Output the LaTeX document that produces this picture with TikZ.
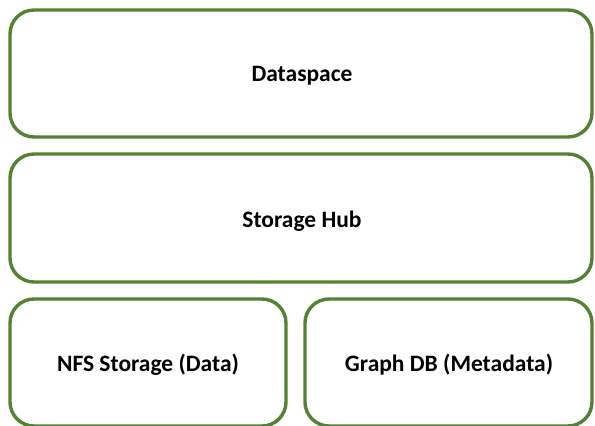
\documentclass[tikz,border=0pt]{standalone}
\usepackage{fontspec}
\setmainfont{Carlito}
\definecolor{layergreen}{HTML}{548235}
\tikzset{
  layer/.style={draw=layergreen, line width=3.4pt, rounded corners=24pt, fill=white},
  layertext/.style={font=\bfseries\fontsize{23.5}{27}\selectfont, text=black}
}
\begin{document}
\begin{tikzpicture}[x=1pt,y=1pt]
  \useasboundingbox (0,0) rectangle (595,426);
  % stacked layers, top to bottom
  \draw[layer] (10,416) rectangle (592,289);
  \node[layertext] (dataspace) at (302,350) {Dataspace};
  \draw[layer] (10,272) rectangle (592,144);
  \node[layertext] (hub) at (302,205) {Storage Hub};
  % storage back ends
  \draw[layer] (10,127) rectangle (286,0);
  \node[layertext] (nfs) at (148,61) {NFS Storage (Data)};
  \draw[layer] (305,127) rectangle (592,0);
  \node[layertext] (graph) at (449,61) {Graph DB (Metadata)};
\end{tikzpicture}
\end{document}
